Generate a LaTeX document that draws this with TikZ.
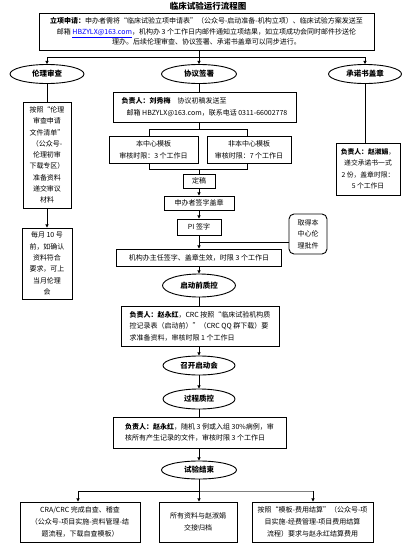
\documentclass[tikz,border=0pt]{standalone}
\usepackage{fontspec}
\setmainfont{Noto Sans CJK SC}
\usetikzlibrary{arrows.meta,shapes.geometric}
\begin{document}
\begin{tikzpicture}[x=1pt,y=-1pt,
  bx/.style={draw, line width=0.9pt, inner sep=1pt, align=center,
    font=\fontsize{7}{10.5}\selectfont},
  ell/.style={draw, ellipse, line width=0.9pt, inner sep=0pt,
    font=\bfseries\fontsize{7.5}{8}\selectfont},
  conn/.style={line width=0.8pt},
  arr/.style={conn, -{Triangle[length=3.2pt,width=3.2pt]}},
  email/.style={}]
\fill[white] (0,0) rectangle (411,544);
\useasboundingbox (0,0) rectangle (411,544);

% title and top box
\node[font=\bfseries\fontsize{8.5}{9}\selectfont] (title) at (208,6) {临床试验运行流程图};
\node[bx, minimum width=335pt, minimum height=37pt] (top) at (206.5,31.5)
 {\textbf{立项申请：}申办者需将“临床试验立项申请表”（公众号-启动准备-机构立项）、临床试验方案发送至\\
  邮箱 \textcolor{blue}{\underline{HBZYLX@163.com}}，机构办 3 个工作日内邮件通知立项结果，如立项成功会同时邮件抄送伦\\
  理办。后续伦理审查、协议签署、承诺书盖章可以同步进行。};

% three branch ellipses
\node[ell, minimum width=74pt, minimum height=19pt] (e1) at (47,74) {伦理审查};
\node[ell, minimum width=75pt, minimum height=19pt] (e2) at (199,74) {协议签署};
\node[ell, minimum width=73pt, minimum height=19pt] (e3) at (365,74) {承诺书盖章};

% left column
\node[bx, minimum width=48pt, minimum height=106pt, font=\fontsize{7}{11.3}\selectfont] (L1) at (47,155)
 {按照“伦理\\审查申请\\文件清单”\\（公众号-\\伦理初审\\下载专区）\\准备资料\\递交审议\\材料};
\node[bx, minimum width=50pt, minimum height=71pt, font=\fontsize{7}{11.3}\selectfont] (L2) at (47,263.5)
 {每月 10 号\\前，如确认\\资料符合\\要求，可上\\当月伦理\\会};

% middle column
\node[bx, minimum width=183pt, minimum height=30pt, align=left, font=\fontsize{7}{12}\selectfont] (M1) at (204.5,107)
 {\textbf{负责人：刘秀梅}\quad 协议初稿发送至\\
  \hspace{5pt}邮箱 HBZYLX@163.com，联系电话 0311-66002778};
\node[bx, minimum width=89pt, minimum height=27pt, font=\fontsize{7}{12}\selectfont] (M2a) at (153.5,149.5)
 {本中心模板\\审核时限：3 个工作日};
\node[bx, minimum width=84pt, minimum height=27pt, font=\fontsize{7}{12}\selectfont] (M2b) at (249,149.5)
 {非本中心模板\\审核时限：7 个工作日};
\node[bx, minimum width=32pt, minimum height=14pt] (M3) at (199,181) {定稿};
\node[bx, minimum width=70pt, minimum height=14pt] (M4) at (199,203) {申办者签字盖章};
\node[bx, minimum width=44pt, minimum height=16pt] (M5) at (199,227) {PI 签字};
\node[bx, minimum width=38pt, minimum height=40pt, rounded corners=5pt, font=\fontsize{7}{11.5}\selectfont] (side) at (308,234)
 {取得本\\中心伦\\理批件};
\node[bx, minimum width=165pt, minimum height=17pt] (M6) at (199,257.5)
 {机构办主任签字、盖章生效，时限 3 个工作日};
\node[ell, minimum width=73pt, minimum height=23pt] (E4) at (199,285.5) {启动前质控};
\node[bx, minimum width=158pt, minimum height=40pt, align=left, font=\fontsize{7}{11.5}\selectfont] (M7) at (200,326)
 {\textbf{负责人：赵永红}，CRC 按照“临床试验机构质\\
  控记录表（启动前）”（CRC QQ 群下载）要\\
  求准备资料，审核时限 1 个工作日};
\node[ell, minimum width=72pt, minimum height=19pt] (E5) at (199,365.5) {召开启动会};
\node[ell, minimum width=72pt, minimum height=20pt] (E6) at (199,399) {过程质控};
\node[bx, minimum width=173pt, minimum height=31pt, align=left, font=\fontsize{7}{11.5}\selectfont] (M8) at (199.5,432.5)
 {\textbf{负责人：赵永红}，随机 3 例或入组 30\%病例，审\\
  核所有产生记录的文件，审核时限 3 个工作日};
\node[ell, minimum width=75pt, minimum height=18pt] (E7) at (199,470) {试验结束};

% bottom boxes
\node[bx, minimum width=120pt, minimum height=40pt, font=\fontsize{7}{12}\selectfont] (B1) at (80,522)
 {CRA/CRC 完成自查、稽查\\（公众号-项目实施-资料管理-结\\题流程，下载自查模板）};
\node[bx, minimum width=78pt, minimum height=40pt, font=\fontsize{7}{12}\selectfont] (B2) at (198,522)
 {所有资料与赵淑娟\\交接归档};
\node[bx, minimum width=121pt, minimum height=40pt, font=\fontsize{7}{12}\selectfont] (B3) at (312.5,522)
 {按照“模板-费用结算”（公众号-项\\目实施-经费管理-项目费用结算\\流程）要求与赵永红结算费用};

% right column
\node[bx, minimum width=64pt, minimum height=52pt, font=\fontsize{6.8}{11.5}\selectfont] (R1) at (368,169)
 {\textbf{负责人：赵淑娟}，\\递交承诺书一式\\2 份，盖章时限：\\5 个工作日};

% ---- connectors ----
\coordinate (h1) at (199,57);
\draw[conn] (top.south -| h1) -- (h1);
\draw[conn] (e1.north |- h1) -- (e3.north |- h1);
\draw[arr] (e1.north |- h1) -- (e1.north);
\draw[arr] (h1) -- (e2.north);
\draw[arr] (e3.north |- h1) -- (e3.north);

\draw[conn] (e1.south) -- (L1.north);
\draw[arr] (L1.south) -- (L2.north);

\draw[conn] (e3.south) -- (e3.south |- R1.north);

\draw[conn] (e2.south) -- (e2.south |- M1.north);
\coordinate (s1) at (199,129);
\coordinate (a1) at (149,129);
\coordinate (a2) at (247,129);
\coordinate (j1) at (199,169);
\coordinate (b1) at (149,169);
\coordinate (b2) at (247,169);
\draw[conn] (M1.south -| s1) -- (s1);
\draw[conn] (a1) -- (a2);
\draw[conn] (a1) -- (a1 |- M2a.north);
\draw[conn] (a2) -- (a2 |- M2b.north);
\draw[conn] (b1 |- M2a.south) -- (b1) -- (b2) -- (b2 |- M2b.south);
\draw[conn] (j1) -- (M3.north);
\draw[arr] (M3.south) -- (M4.north);
\draw[arr] (M4.south) -- (M5.north);
\coordinate (k) at (199,242);
\draw[arr] (M5.south) -- (M6.north);
\draw[conn] (side.west |- k) -- (k);
\draw[arr] (M6.south) -- (E4.north);
\draw[conn] (E4.south) -- (E4.south |- M7.north);
\draw[arr] (E5.north |- M7.south) -- (E5.north);
\draw[arr] (E5.south) -- (E6.north);
\draw[conn] (E6.south) -- (E6.south |- M8.north);
\draw[arr] (E7.north |- M8.south) -- (E7.north);

\coordinate (t) at (199,491);
\coordinate (t1) at (78,491);
\coordinate (t3) at (313,491);
\draw[conn] (E7.south) -- (t);
\draw[conn] (t1) -- (t);
\draw[conn, gray] (t) -- (t3);
\draw[arr] (t1) -- (t1 |- B1.north);
\draw[arr] (t) -- (t |- B2.north);
\draw[arr] (t3) -- (t3 |- B3.north);
\end{tikzpicture}
\end{document}
